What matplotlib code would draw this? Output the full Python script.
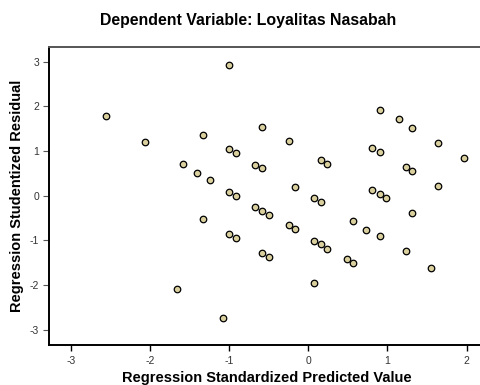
import matplotlib
matplotlib.use("Agg")
import matplotlib.pyplot as plt

plt.rcParams['font.family'] = ['Liberation Sans', 'DejaVu Sans']

title = "Dependent Variable: Loyalitas Nasabah"
xlabel = "Regression Standardized Predicted Value"
ylabel = "Regression Studentized Residual"

pred = [-2.56, -2.07, -1.00, -1.33, -1.00, -0.91, -1.58, -1.41, -1.25, -1.00,
        -0.91, -0.585, -0.25, 0.90, 1.15, 1.31, 1.64, 1.97, 0.81, 0.90,
        -0.67, -0.585, 0.157, 0.24, 1.23, 1.31, -0.17, 1.64, 0.07, 0.157,
        0.81, 0.90, 0.98, -0.67, -0.585, -0.50, -0.25, -0.17, 1.31, 0.57,
        0.73, 0.90, 0.07, 0.157, 0.24, -0.585, -0.50, 0.485, 0.57, 1.23,
        1.555, 0.07, -1.33, -1.00, -0.91, -1.66, -1.08]
resid = [1.79, 1.21, 2.92, 1.37, 1.04, 0.95, 0.71, 0.51, 0.35, 0.09,
         0.00, 1.55, 1.22, 1.92, 1.72, 1.51, 1.18, 0.84, 1.08, 0.98,
         0.70, 0.62, 0.80, 0.72, 0.65, 0.56, 0.19, 0.22, -0.06, -0.15,
         0.13, 0.04, -0.04, -0.25, -0.34, -0.42, -0.66, -0.75, -0.39, -0.57,
         -0.77, -0.90, -1.01, -1.09, -1.19, -1.27, -1.37, -1.42, -1.51, -1.24,
         -1.61, -1.96, -0.51, -0.86, -0.94, -2.09, -2.73]

xticks = [-3, -2, -1, 0, 1, 2]
yticks = [-3, -2, -1, 0, 1, 2, 3]

fig = plt.figure(figsize=(4.8, 3.85), dpi=100)
ax = fig.add_axes([49/480, 40/385, (483-49)/480, (345-47)/385])

ax.scatter(pred, resid, s=22, facecolor='#D9D09E', edgecolor='black',
           linewidths=0.9, zorder=3)

ax.set_xlim(-3.28, (483-308.3)/79.1)
ax.set_ylim(-3.34, 3.33)
ax.set_xticks(xticks)
ax.set_yticks(yticks)
ax.set_xticklabels([str(t) for t in xticks])
ax.set_yticklabels([str(t) for t in yticks])
ax.tick_params(axis='both', direction='out', length=4, width=0.8,
               labelsize=7.5, labelcolor='#333333', color='#555555', pad=3)
ax.tick_params(axis='x', color='black', width=1.0, pad=4)

for side in ['left', 'bottom']:
    ax.spines[side].set_linewidth(1.4)
    ax.spines[side].set_color('black')
ax.spines['top'].set_linewidth(1.4)
ax.spines['top'].set_color('#555555')
ax.spines['right'].set_visible(False)

fig.text(248/480, 1 - 20/385, title, ha='center', va='center',
         fontsize=11.4, fontweight='bold')
fig.text(267/480, 1 - 378/385, xlabel, ha='center', va='center',
         fontsize=10.5, fontweight='bold')
fig.text(17/480, 1 - 196/385, ylabel, ha='center', va='center',
         rotation=90, fontsize=10.5, fontweight='bold')

fig.savefig("out.png", dpi=100)
